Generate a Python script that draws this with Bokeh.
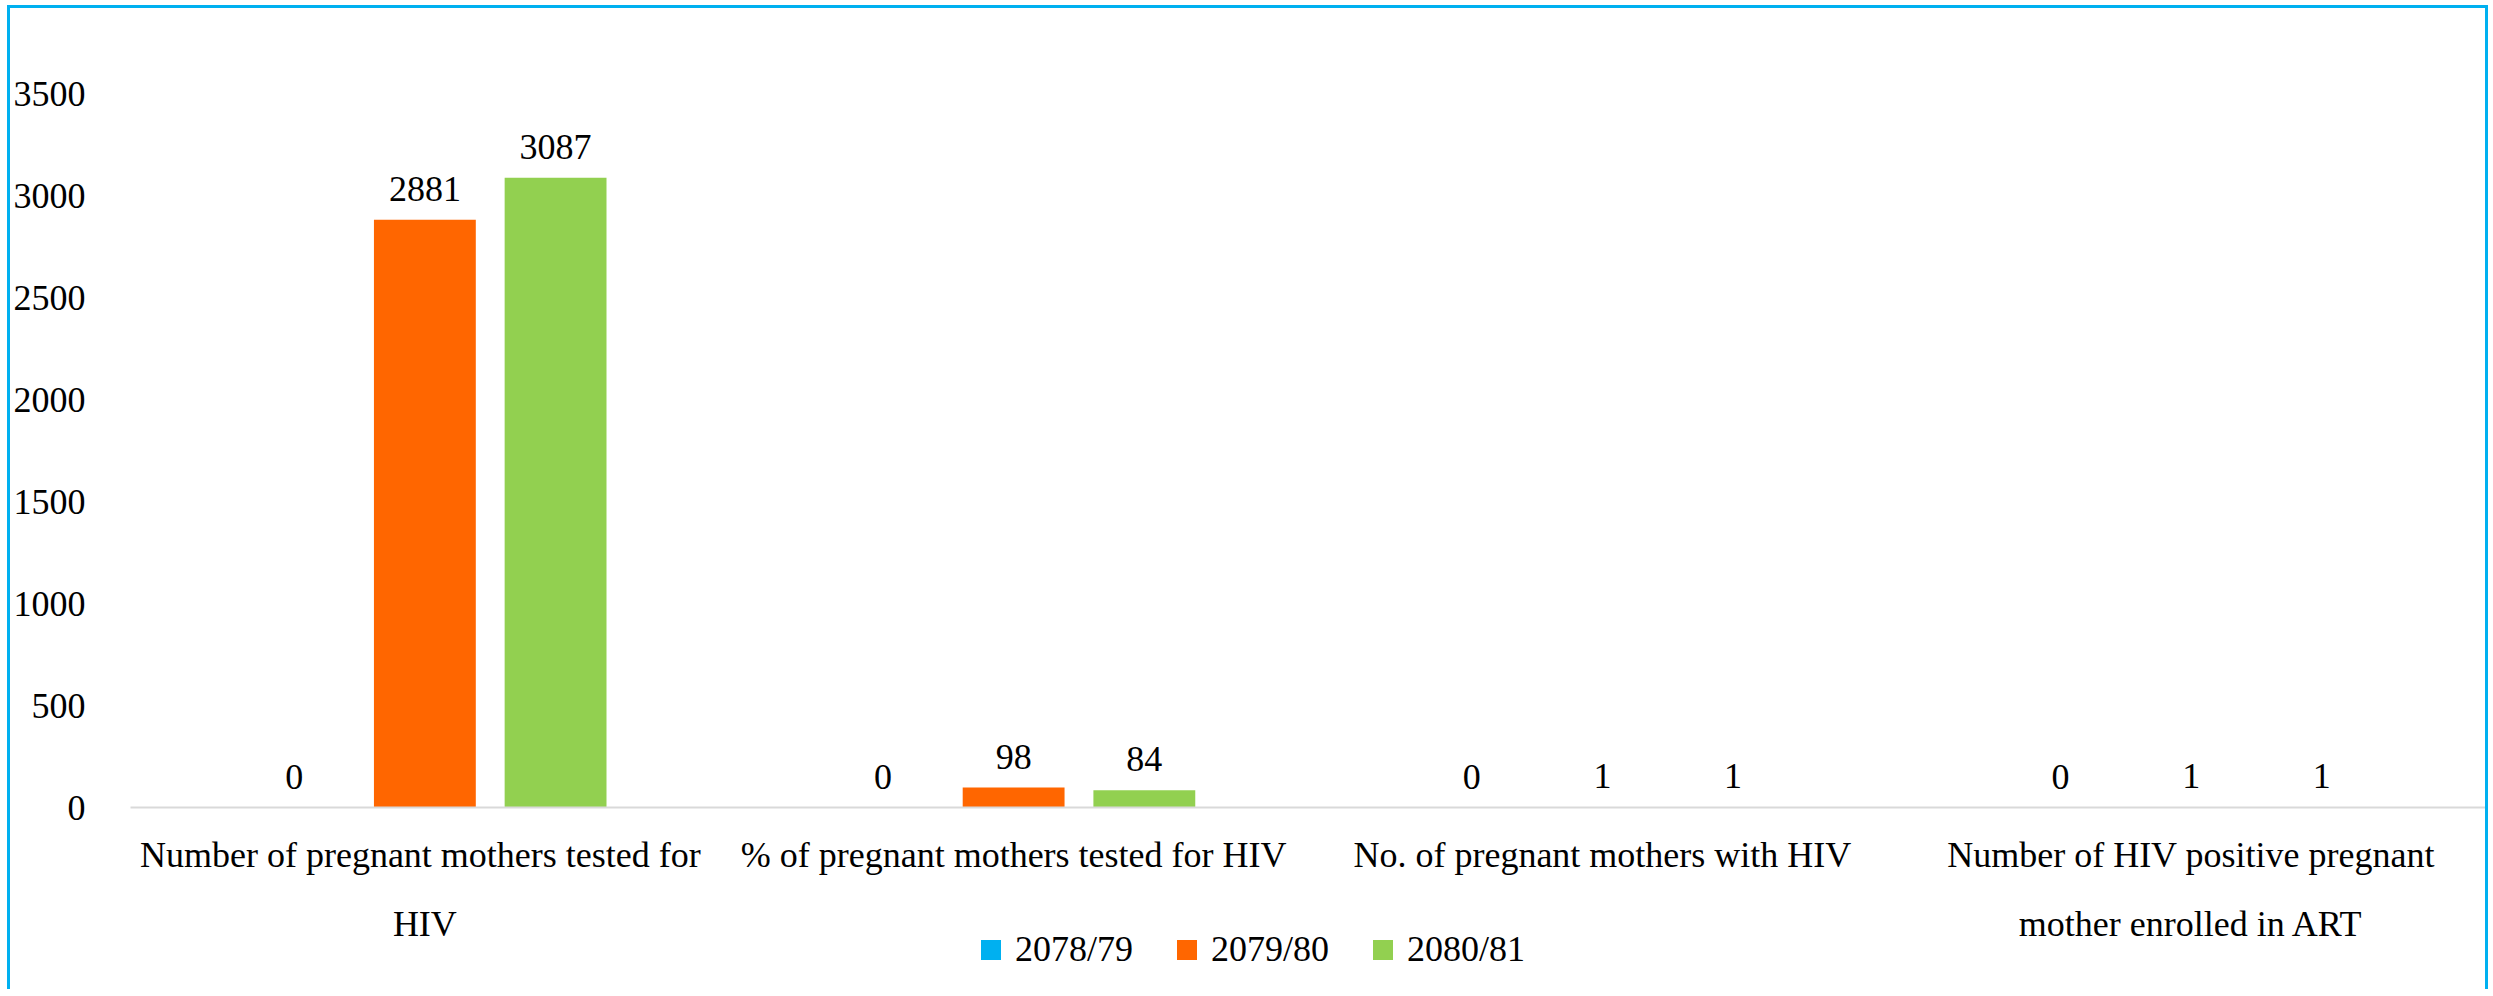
from bokeh.plotting import figure
from bokeh.layouts import column
from bokeh.models import ColumnDataSource, Range1d, FactorRange, Legend, LegendItem, SingleIntervalTicker
from bokeh.transform import dodge
from bokeh.core.properties import value
from bokeh.embed import file_html
from bokeh.resources import INLINE

categories = [
    "Number of  pregnant mothers tested for\nHIV",
    "% of pregnant mothers tested for HIV",
    "No. of pregnant mothers with HIV",
    "Number of HIV positive pregnant\nmother enrolled in ART",
]
series_names = ["2078/79", "2079/80", "2080/81"]
values_2078_79 = [0, 0, 0, 0]
values_2079_80 = [2881, 98, 1, 1]
values_2080_81 = [3087, 84, 1, 1]
y_ticks_interval = 500

colors = ["#00B0F0", "#FF6600", "#92D050"]
FONT = "Liberation Serif"
W = 2475

src = ColumnDataSource(dict(
    cat=categories,
    v1=values_2078_79, v2=values_2079_80, v3=values_2080_81,
    t1=[str(v) for v in values_2078_79],
    t2=[str(v) for v in values_2079_80],
    t3=[str(v) for v in values_2080_81],
))

PH = 948
p = figure(
    x_range=FactorRange(factors=categories, range_padding=0, factor_padding=0),
    y_range=Range1d(0, 3500),
    width=W, height=PH,
    output_backend="svg", toolbar_location=None,
    min_border_left=116, min_border_right=0, min_border_top=85, min_border_bottom=PH - 85 - 714,
)
p.outline_line_color = None
p.xgrid.grid_line_color = None
p.ygrid.grid_line_color = None

offsets = [-0.222, 0.0, 0.222]
bar_w = 0.173
for i, (col, tcol) in enumerate([("v1", "t1"), ("v2", "t2"), ("v3", "t3")]):
    xs = dodge("cat", offsets[i], range=p.x_range)
    p.vbar(x=xs, top=col, width=bar_w, source=src, fill_color=colors[i], line_color=None)
    p.text(x=xs, y=col, text=tcol, source=src,
           text_align="center", text_baseline="alphabetic", y_offset=-31,
           text_font=value(FONT), text_font_size=value("36px"), text_color="black")

# axes
p.xaxis.axis_line_color = "#D9D9D9"
p.xaxis.axis_line_width = 2
p.xaxis.major_tick_line_color = None
p.xaxis.minor_tick_line_color = None
p.xaxis.major_tick_out = 0
p.xaxis.major_tick_in = 0
p.xaxis.major_label_text_font = FONT
p.xaxis.major_label_text_font_size = "36px"
p.xaxis.major_label_text_color = "black"
p.xaxis.major_label_standoff = 27
p.xaxis.major_label_text_line_height = 1.74
p.xaxis.major_label_orientation = "horizontal"

p.yaxis.ticker = SingleIntervalTicker(interval=y_ticks_interval)
p.yaxis.axis_line_color = None
p.yaxis.major_tick_line_color = None
p.yaxis.minor_tick_line_color = None
p.yaxis.major_tick_out = 0
p.yaxis.major_tick_in = 0
p.yaxis.major_label_text_font = FONT
p.yaxis.major_label_text_font_size = "36px"
p.yaxis.major_label_text_color = "black"
p.yaxis.major_label_standoff = 41

# legend strip
LH = 60
q = figure(width=W, height=LH, output_backend="svg", toolbar_location=None,
           x_axis_type=None, y_axis_type=None,
           x_range=Range1d(0, 1), y_range=Range1d(0, 1),
           min_border_left=0, min_border_right=0, min_border_top=0, min_border_bottom=0,
           styles={"margin-top": f"-{8 + PH - 929}px"})
q.outline_line_color = None
q.xgrid.grid_line_color = None
q.ygrid.grid_line_color = None
q.background_fill_alpha = 0
q.border_fill_alpha = 0
leg_renderers = [q.vbar(x=[0.5], top=[0], bottom=[0], width=0.0, fill_color=c, line_color=None)
                 for c in colors]
legend = Legend(
    items=[LegendItem(label=series_names[i], renderers=[leg_renderers[i]]) for i in range(3)],
    orientation="horizontal", location=(848, LH - 41),
    glyph_width=25, glyph_height=25, label_standoff=12, spacing=41,
    padding=0, margin=0, border_line_color=None, background_fill_alpha=0,
    label_text_font=FONT, label_text_font_size="36px", label_text_color="black",
)
q.add_layout(legend)

border = "3px solid #00B0F0"
layout = column(p, q, styles={"margin-left": "7px", "margin-top": "5px",
                              "border-top": border, "border-left": border, "border-right": border})

open("out.html", "w").write(file_html(layout, INLINE))
